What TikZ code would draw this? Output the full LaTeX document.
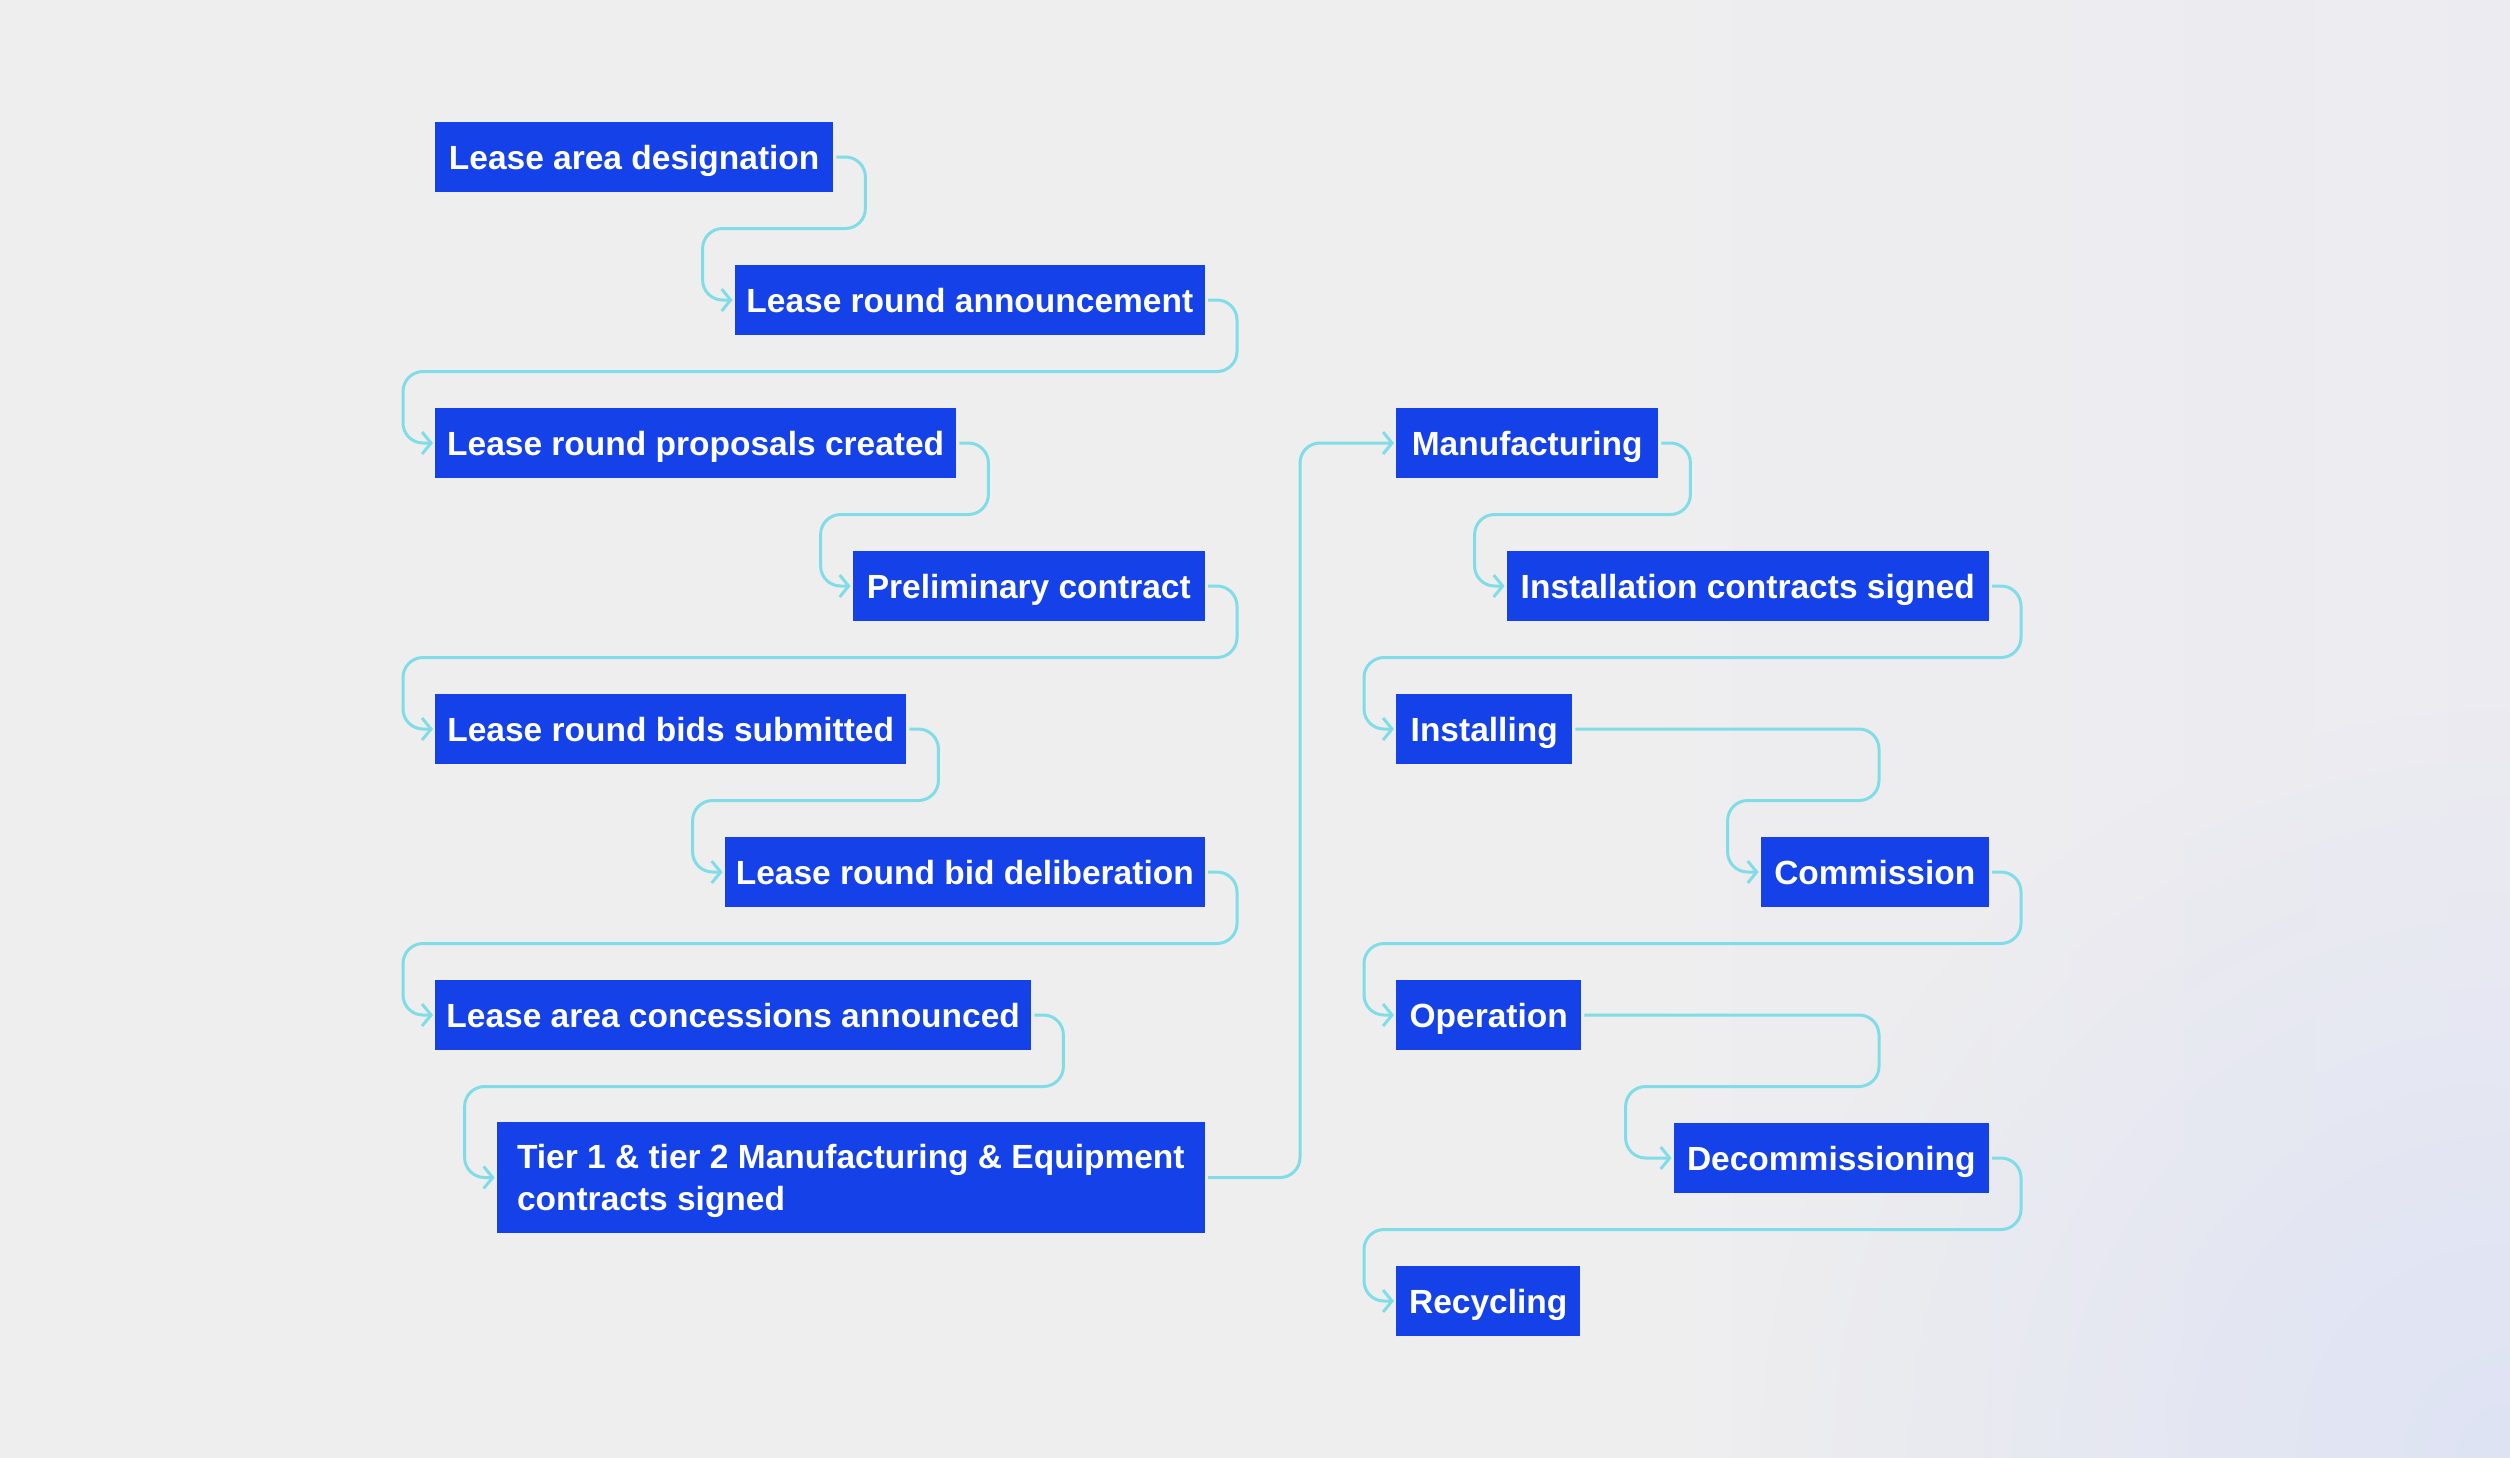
\documentclass[tikz,border=0pt]{standalone}
\usepackage{fontspec}
\setmainfont{Liberation Sans}
\usetikzlibrary{arrows.meta,fadings,calc}
\definecolor{boxblue}{HTML}{1441E8}
\definecolor{linecyan}{HTML}{80DDE8}
\definecolor{bgL}{HTML}{EEEEEE}
\definecolor{bgR}{HTML}{E9E8F5}
\definecolor{bgB}{HTML}{DEE3F4}
\tikzfading[name=myfade, inner color=transparent!0, outer color=transparent!100]
\pgfdeclarehorizontalshading{bgshade}{100bp}{color(0bp)=(bgL); color(55bp)=(bgL); color(100bp)=(bgR)}
\tikzset{
  basebox/.style={fill=boxblue, text=white, font=\bfseries\fontsize{33.5}{42}\selectfont,
    inner xsep=10pt, inner ysep=0pt, minimum height=70pt, text depth=0pt},
  box/.style={basebox, text height=24.3pt},
  conn/.style={draw=linecyan, line width=3pt, rounded corners=20pt,
    -{Straight Barb[length=9pt,width=22pt]}, shorten >=2pt}
}
\begin{document}
\begin{tikzpicture}[x=1pt,y=-1pt]
\useasboundingbox (0,0) rectangle (2510,1457);
\shade[shading=bgshade] (0,0) rectangle (2510,1457);
\begin{scope}
\clip (0,0) rectangle (2510,1457);
\fill[bgB, path fading=myfade] (2510,1457) circle (750);
\end{scope}

% left column
\node[box, anchor=west, minimum width=398pt] (n1) at (435,157) {Lease area designation};
\node[box, anchor=east, minimum width=470pt] (n2) at (1205,300) {Lease round announcement};
\node[box, anchor=west, minimum width=521pt] (n3) at (435,443) {Lease round proposals created};
\node[box, anchor=east, minimum width=352pt] (n4) at (1205,586) {Preliminary contract};
\node[box, anchor=west, minimum width=471pt] (n5) at (435,729) {Lease round bids submitted};
\node[box, anchor=east, minimum width=480pt] (n6) at (1205,872) {Lease round bid deliberation};
\node[box, anchor=west, minimum width=596pt] (n7) at (435,1015) {Lease area concessions announced};
\node[basebox, anchor=east, minimum width=708pt, minimum height=111pt, inner xsep=14pt, align=left] (n8) at (1205,1177.5)
  {Tier 1 \& tier 2 Manufacturing \& Equipment\\contracts signed};

% right column
\node[box, anchor=west, minimum width=262pt] (n9) at (1396,443) {Manufacturing};
\node[box, anchor=east, minimum width=482pt] (n10) at (1989,586) {Installation contracts signed};
\node[box, anchor=west, minimum width=176pt] (n11) at (1396,729) {Installing};
\node[box, anchor=east, minimum width=228pt] (n12) at (1989,872) {Commission};
\node[box, anchor=west, minimum width=185pt] (n13) at (1396,1015) {Operation};
\node[box, anchor=east, minimum width=315pt] (n14) at (1989,1158) {Decommissioning};
\node[box, anchor=west, minimum width=184pt] (n15) at (1396,1301) {Recycling};

% connectors
\draw[conn] ([xshift=3pt]n1.east) -| ([shift={(32,71.5)}]n1.east) -| ([xshift=-32pt]n2.west) -- (n2.west);
\draw[conn] ([xshift=3pt]n2.east) -| ([shift={(32,71.5)}]n2.east) -| ([xshift=-32pt]n3.west) -- (n3.west);
\draw[conn] ([xshift=3pt]n3.east) -| ([shift={(32,71.5)}]n3.east) -| ([xshift=-32pt]n4.west) -- (n4.west);
\draw[conn] ([xshift=3pt]n4.east) -| ([shift={(32,71.5)}]n4.east) -| ([xshift=-32pt]n5.west) -- (n5.west);
\draw[conn] ([xshift=3pt]n5.east) -| ([shift={(32,71.5)}]n5.east) -| ([xshift=-32pt]n6.west) -- (n6.west);
\draw[conn] ([xshift=3pt]n6.east) -| ([shift={(32,71.5)}]n6.east) -| ([xshift=-32pt]n7.west) -- (n7.west);
\draw[conn] ([xshift=3pt]n7.east) -| ([shift={(32,71.5)}]n7.east) -| ([xshift=-32pt]n8.west) -- (n8.west);
\draw[conn] ([xshift=3pt]n8.east) -| ([xshift=-96pt]n9.west) -- (n9.west);
\draw[conn] ([xshift=3pt]n9.east) -| ([shift={(32,71.5)}]n9.east) -| ([xshift=-32pt]n10.west) -- (n10.west);
\draw[conn] ([xshift=3pt]n10.east) -| ([shift={(32,71.5)}]n10.east) -| ([xshift=-32pt]n11.west) -- (n11.west);
\draw[conn] ([xshift=3pt]n11.east) -| ([shift={(-110,71.5)}]n12.east |- n11.east) -| ([xshift=-33pt]n12.west) -- (n12.west);
\draw[conn] ([xshift=3pt]n12.east) -| ([shift={(32,71.5)}]n12.east) -| ([xshift=-32pt]n13.west) -- (n13.west);
\draw[conn] ([xshift=3pt]n13.east) -| ([shift={(-110,71.5)}]n14.east |- n13.east) -| ([xshift=-48pt]n14.west) -- (n14.west);
\draw[conn] ([xshift=3pt]n14.east) -| ([shift={(32,71.5)}]n14.east) -| ([xshift=-32pt]n15.west) -- (n15.west);
\end{tikzpicture}
\end{document}
